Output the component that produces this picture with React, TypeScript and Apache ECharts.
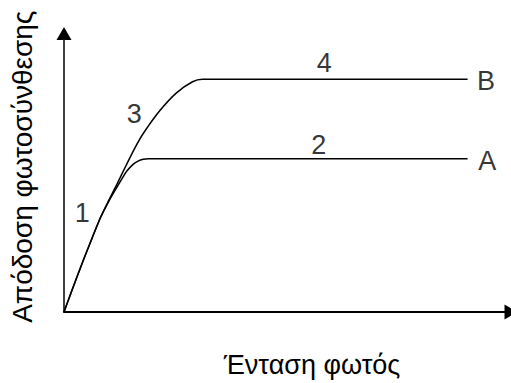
import React, { useEffect, useRef } from "react";
import * as echarts from "echarts";

const xTitle = "Ένταση φωτός";
const yTitle = "Απόδοση φωτοσύνθεσης";

// curve A (lower plateau)
const seriesA: [number, number][] = [
  [0, 0], [3.02, 13.11], [5.96, 25.22], [8.17, 33.91], [9.93, 39.48],
  [11.92, 45.04], [13.02, 48.0], [14.06, 50.61], [15.52, 53.11], [16.56, 54.16],
  [17.73, 54.82], [18.83, 55.06], [90.29, 55.06],
];
// curve B (higher plateau)
const seriesB: [number, number][] = [
  [0, 0], [3.02, 13.11], [5.96, 25.22], [8.17, 33.91], [9.93, 39.83],
  [11.85, 45.91], [13.91, 52.7], [16.05, 59.48], [17.73, 64.1], [21.41, 72.24],
  [25.1, 78.61], [28.76, 82.68], [30.97, 83.58], [90.29, 83.58],
];

const labelTexts = ["1", "2", "3", "4", "A", "B"];
const labelX = [4.1, 57.0, 15.7, 58.2, 94.7, 94.4];
const labelY = [35.4, 59.9, 71.0, 89.4, 54.1, 83.0];

const FONT = "'Liberation Sans', Arial, Helvetica, sans-serif";
const FS = 27;

export default function App() {
  const ref = useRef<HTMLDivElement>(null);
  useEffect(() => {
    if (!ref.current) return;
    const chart = echarts.init(ref.current, undefined, { renderer: "svg" });
    const lineStyle = { color: "#000", width: 1.5 };
    chart.setOption({
      animation: false,
      backgroundColor: "#fff",
      grid: { left: 58, right: 0, top: 33.5, bottom: 62 },
      xAxis: {
        type: "value",
        min: 0,
        max: 100,
        name: xTitle,
        nameLocation: "middle",
        nameGap: 39,
        nameTextStyle: { fontFamily: FONT, fontSize: FS, color: "#000", padding: [0, 0, 0, 49] },
        axisLine: {
          show: true,
          symbol: ["none", "triangle"],
          symbolSize: [15, 13],
          lineStyle: { color: "#000", width: 2 },
        },
        axisTick: { show: false },
        axisLabel: { show: false },
        splitLine: { show: false },
      },
      yAxis: {
        type: "value",
        min: 0,
        max: 100,
        name: yTitle,
        nameLocation: "middle",
        nameGap: 28,
        nameTextStyle: { fontFamily: FONT, fontSize: 28, color: "#000", padding: [0, 0, 0, 12] },
        axisLine: {
          show: true,
          symbol: ["none", "triangle"],
          symbolSize: [15, 13],
          lineStyle: { color: "#000", width: 1.5 },
        },
        axisTick: { show: false },
        axisLabel: { show: false },
        splitLine: { show: false },
      },
      series: [
        {
          type: "line",
          name: "A",
          data: seriesA,
          smooth: 0.3,
          showSymbol: false,
          lineStyle,
          silent: true,
        },
        {
          type: "line",
          name: "B",
          data: seriesB,
          smooth: 0.3,
          showSymbol: false,
          lineStyle,
          silent: true,
        },
        {
          type: "scatter",
          name: "labels",
          symbolSize: 0,
          silent: true,
          data: labelTexts.map((t, i) => ({ value: [labelX[i], labelY[i]], name: t })),
          label: {
            show: true,
            position: "inside",
            formatter: (p: any) => p.name,
            fontFamily: FONT,
            fontSize: FS,
            color: "#000",
          },
        },
      ],
    });
    return () => chart.dispose();
  }, []);
  return (
    <div
      ref={ref}
      style={{ position: "fixed", left: 0, top: 0, width: 511, height: 383, background: "#fff" }}
    />
  );
}
